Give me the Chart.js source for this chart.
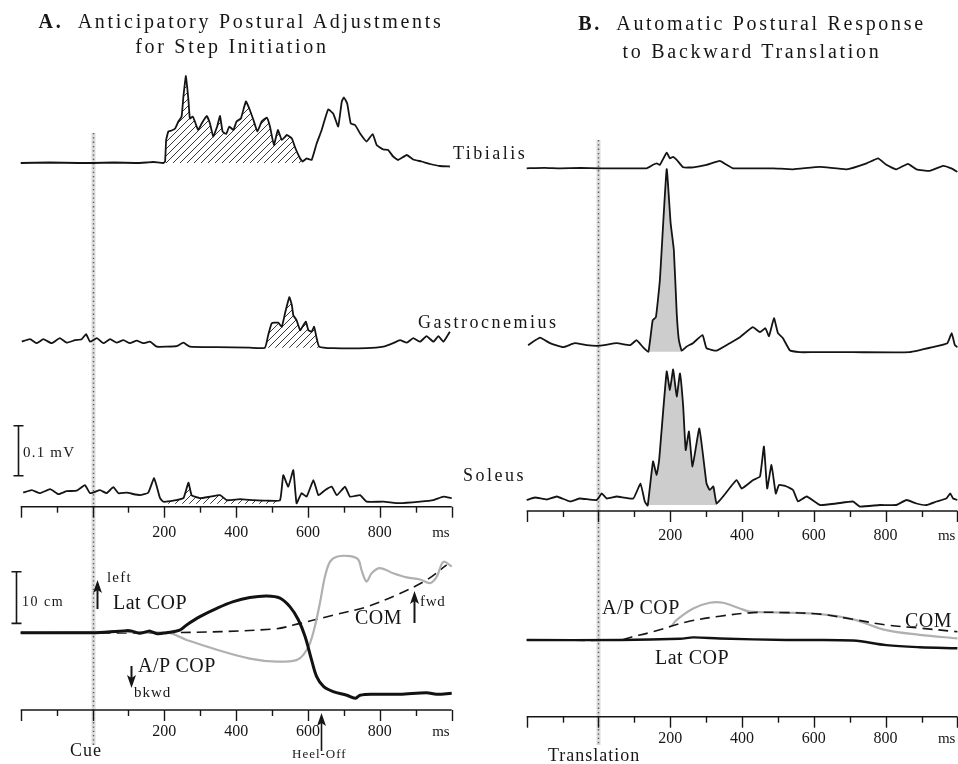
<!DOCTYPE html>
<html>
<head>
<meta charset="utf-8">
<script src="https://cdn.jsdelivr.net/npm/chart.js@4.4.1/dist/chart.umd.min.js"></script>
<style>
  body { margin: 0; background: #fff; }
  #page { position: relative; width: 958px; height: 764px; overflow: hidden; font-family: "Liberation Serif", "DejaVu Serif", serif; color: #161616; }
  canvas { position: absolute; top: 0; }
  .colA { left: 0; }
  .colB { left: 479px; }
  .t { position: absolute; white-space: nowrap; line-height: 1; transform: translateY(-50%); }
  .c { position: absolute; white-space: nowrap; line-height: 1; transform: translate(-50%, -50%); }
  .title { font-size: 20px; letter-spacing: 2.7px; }
  .muscle { font-size: 18px; letter-spacing: 2.5px; }
  .lab { font-size: 20px; letter-spacing: 0.5px; }
  .small { font-size: 15px; letter-spacing: 1.2px; }
</style>
</head>
<body>
<div id="page">
  <canvas id="copA" class="colA" width="479" height="764"></canvas>
  <canvas id="copB" class="colB" width="479" height="764"></canvas>
  <canvas id="tibA" class="colA" width="479" height="764"></canvas>
  <canvas id="gasA" class="colA" width="479" height="764"></canvas>
  <canvas id="solA" class="colA" width="479" height="764"></canvas>
  <canvas id="tibB" class="colB" width="479" height="764"></canvas>
  <canvas id="gasB" class="colB" width="479" height="764"></canvas>
  <canvas id="solB" class="colB" width="479" height="764"></canvas>

  <div class="c title" style="left:241px;top:21px"><b>A.</b>&nbsp; Anticipatory Postural Adjustments</div>
  <div class="c title" style="left:232px;top:46px">for Step Initiation</div>
  <div class="c title" style="left:752px;top:23px"><b>B.</b>&nbsp; Automatic Postural Response</div>
  <div class="c title" style="left:752px;top:51px">to Backward Translation</div>

  <div class="t muscle" style="left:453px;top:153px">Tibialis</div>
  <div class="t muscle" style="left:418px;top:322px">Gastrocnemius</div>
  <div class="t muscle" style="left:463px;top:475px">Soleus</div>

  <div class="t small" style="left:23px;top:452px">0.1 mV</div>
  <div class="t small" style="left:22px;top:602px;font-size:14px;letter-spacing:1.5px">10 cm</div>
  <div class="t small" style="left:107px;top:577px">left</div>
  <div class="t lab" style="left:113px;top:602px">Lat COP</div>
  <div class="t lab" style="left:138px;top:665px">A/P COP</div>
  <div class="t small" style="left:134px;top:692px;letter-spacing:1px">bkwd</div>
  <div class="t lab" style="left:355px;top:617px">COM</div>
  <div class="t small" style="left:420px;top:601px;letter-spacing:0.7px">fwd</div>
  <div class="t" style="left:70px;top:750px;font-size:18px;letter-spacing:1px">Cue</div>
  <div class="t" style="left:292px;top:753px;font-size:13px;letter-spacing:1px">Heel-Off</div>

  <div class="t lab" style="left:602px;top:607px">A/P COP</div>
  <div class="t lab" style="left:905px;top:620px">COM</div>
  <div class="t lab" style="left:655px;top:657px">Lat COP</div>
  <div class="t" style="left:548px;top:755px;font-size:18px;letter-spacing:1px">Translation</div>
</div>

<script>
// time axis (ms) shared by both columns
const msMin = -200;
const msMax = 1000;
const tickMs = [-200, -100, 0, 100, 200, 300, 400, 500, 600, 700, 800, 900, 1000];
const tickLabels = [200, 400, 600, 800];

// A. anticipatory postural adjustments - EMG (µV above trace baseline)
const tibA_t = [-200,-120,-40,0,60,120,150,169,197,202,205,211,220,230,239,248,253,260,267,271,279,285,294,304,318,327,336,347,355,362,372,381,392,401,413,427,438,448,459,471,485,494,505,516,527,541,555,564,578,585,596,610,624,638,656,670,684,694,700,709,719,731,745,763,780,791,810,823,837,851,875,893,916,940,967,995];
const tibA_v = [0,1,0,0,1,0,1,2,0,3,46,63,65,69,83,93,133,174,126,89,93,83,66,79,94,79,53,73,94,63,58,73,66,83,89,123,106,86,63,83,91,73,36,66,46,56,49,31,9,3,9,6,39,66,107,99,73,123,131,119,79,76,59,43,58,36,27,26,13,6,16,7,3,-2,-6,-7];
const gasA_t = [-197,-174,-155,-137,-114,-91,-72,-49,-30,-18,-7,12,30,49,67,86,104,123,141,160,179,206,234,253,271,346,438,480,489,499,517,527,536,548,555,559,568,578,587,594,601,610,617,624,631,670,763,810,837,856,875,893,912,930,949,963,977,995];
const gasA_v = [12,17,9,17,9,19,10,15,17,27,12,19,9,17,10,15,9,14,9,12,2,2,3,10,2,1,0,0,25,49,50,42,69,101,85,65,55,35,45,52,35,32,42,19,2,-1,-1,2,9,15,10,19,12,23,12,23,12,32];
const solA_t = [-193,-169,-146,-118,-95,-72,-44,-21,-7,21,39,58,72,95,132,155,171,179,188,197,225,253,267,276,299,327,355,374,411,448,485,522,531,545,559,568,582,596,615,629,647,666,680,703,717,745,763,810,856,912,949,977,1000];
const solA_v = [18,23,17,25,15,21,22,33,17,23,17,29,17,18,13,18,47,30,7,0,2,7,38,13,7,10,13,3,5,3,2,3,53,30,63,-3,17,10,43,13,23,30,13,30,10,13,0,0,-3,0,3,10,7];
const hatchA = { tib: [200, 585], gas: [480, 631], sol: [190, 525] };

// A. centre of pressure / centre of mass (cm)
const latA_t = [-200,-100,0,95,110,130,151,160,180,206,243,262,299,346,392,438,485,522,550,573,592,610,624,643,670,708,731,745,782,856,930,958,1000];
const latA_cm = [0,0,0,0.4,0.3,-0.1,0.2,0.3,-0.2,0,0.5,1.5,3.1,4.7,6.0,6.8,7.1,6.7,5.0,2.5,-0.8,-5.3,-8.5,-10.4,-11.4,-12.1,-12.7,-12.1,-11.9,-11.9,-11.6,-11.9,-11.7];
const apA_t = [-200,206,262,346,438,513,568,587,605,619,633,647,661,680,717,740,749,763,777,800,837,875,912,940,958,977,1000];
const apA_cm = [0,0,-1.4,-3.3,-5.0,-5.6,-5.3,-4.3,-2.1,1.2,5.7,10.8,13.7,14.7,14.8,14.1,12.1,9.9,11.5,12.5,11.5,10.7,10.3,9.6,10.8,13.7,12.8];
const comA_t = [-200,206,503,578,670,763,856,930,986];
const comA_cm = [0,0,0.7,1.8,3.4,5.0,7.6,10.2,13.1];
const heelOffMs = 635;

// B. automatic postural response - EMG (µV)
const tibB_t = [-200,-150,-107,-50,4,60,134,152,162,171,190,199,208,218,236,264,301,338,357,375,431,487,542,617,691,747,779,802,830,862,886,923,960,983,1000];
const tibB_v = [0,1,0,1,0,0,0,7,10,7,31,20,23,17,2,2,7,15,7,0,0,0,-2,3,-2,10,20,7,-2,9,-2,-5,5,0,-7];
const gasB_t = [-196,-163,-135,-99,-66,-33,4,51,88,106,124,139,151,160,171,190,201,210,218,224,232,245,263,290,301,329,366,394,430,450,465,475,489,500,514,533,561,597,709,867,931,972,984,993,1000];
const gasB_v = [13,28,17,9,17,13,12,17,13,23,9,0,63,69,143,365,257,203,77,23,2,10,17,33,7,2,17,29,49,39,47,31,67,37,27,3,-1,-1,-1,-1,9,17,37,13,9];
const solB_t = [-200,-177,-144,-116,-79,-52,-5,9,23,51,97,117,129,137,152,162,169,190,199,208,218,227,236,243,252,262,281,301,310,320,329,347,385,399,431,450,461,470,482,494,503,524,542,556,580,617,663,709,728,784,830,858,886,914,942,969,980,988,1000];
const solB_v = [10,15,11,17,7,13,10,23,13,17,13,43,7,-1,87,60,90,267,230,271,217,263,197,110,147,77,153,43,30,37,3,17,50,33,50,57,117,33,80,23,40,37,30,7,17,0,3,7,-3,0,0,10,3,0,7,13,23,13,10];
const shadeB = { gas: [139, 232], sol: [137, 329] };

// B. centre of pressure / centre of mass (cm)
const latB_t = [-200,60,227,264,338,524,709,802,895,1000];
const latB_cm = [0,0,0.25,0.5,0.3,0,-0.1,-1.0,-1.4,-1.6];
const comB_t = [-200,60,88,152,245,338,431,524,617,709,802,895,1000];
const comB_cm = [0,0,0.5,1.6,3.5,4.6,5.3,5.3,5.0,4.0,2.9,2.3,1.6];
const apB_t = [205,218,264,310,347,394,422,524,617,709,802,895,1000];
const apB_cm = [2.8,3.9,6.1,7.2,7.2,6.1,5.5,5.3,5.0,4.0,1.9,1.0,0.3];

// ---- helpers ----
const UV_PER_PX = 2;          // 0.1 mV bar = 50 px
const CM_PER_PX = 10 / 51.7;  // 10 cm bar
const FONT = '"Liberation Serif", serif';

function pts(t, v) { return t.map((x, i) => ({ x, y: v[i] })); }
function segment(t, v, range) { return pts(t, v).filter(p => p.x >= range[0] && p.x <= range[1]); }

function hatchPattern() {
  const tile = document.createElement('canvas');
  tile.width = 7; tile.height = 7;
  const c = tile.getContext('2d');
  c.strokeStyle = '#222';
  c.lineWidth = 0.9;
  c.beginPath();
  c.moveTo(0, 7); c.lineTo(7, 0);
  c.moveTo(-1, 1); c.lineTo(1, -1);
  c.moveTo(6, 8); c.lineTo(8, 6);
  c.stroke();
  return c.createPattern(tile, 'repeat');
}
const hatch = hatchPattern();

function trace(t, v, opts) {
  return Object.assign({
    data: pts(t, v), borderColor: '#141414', borderWidth: 1.8,
    pointRadius: 0, fill: false, clip: false, order: 0, tension: 0.12
  }, opts || {});
}
function shade(t, v, range, floor, bg) {
  return {
    data: segment(t, v, range), borderWidth: 0, borderColor: 'rgba(0,0,0,0)',
    backgroundColor: bg, fill: { value: floor }, pointRadius: 0, clip: false, order: 5, tension: 0.12
  };
}

// time axis under a panel, drawn from the chart's own x scale
function msAxis(labelGap) {
  return {
    id: 'msAxis',
    afterDraw(chart) {
      const { ctx, chartArea } = chart;
      const xs = chart.scales.x;
      const y = chartArea.bottom;
      ctx.save();
      ctx.strokeStyle = '#161616';
      ctx.lineWidth = 1.5;
      ctx.beginPath();
      ctx.moveTo(xs.getPixelForValue(msMin), y);
      ctx.lineTo(xs.getPixelForValue(msMax), y);
      ctx.stroke();
      ctx.lineWidth = 1.4;
      tickMs.forEach(v => {
        const x = Math.round(xs.getPixelForValue(v)) + 0.5;
        const len = v % 200 === 0 ? 11 : 6;
        ctx.beginPath(); ctx.moveTo(x, y); ctx.lineTo(x, y + len); ctx.stroke();
      });
      ctx.fillStyle = '#161616';
      ctx.font = '16px ' + FONT;
      ctx.textAlign = 'center';
      ctx.textBaseline = 'middle';
      tickLabels.forEach(v => ctx.fillText(String(v), xs.getPixelForValue(v), y + labelGap));
      ctx.font = '15px ' + FONT;
      ctx.textAlign = 'right';
      ctx.fillText('ms', xs.getPixelForValue(msMax) - 2, y + labelGap);
      ctx.restore();
    }
  };
}

// dotted event line at time 0 (Cue / Translation)
function cueLine(top, bottom) {
  return {
    id: 'cueLine',
    beforeDatasetsDraw(chart) {
      const { ctx } = chart;
      const x = Math.round(chart.scales.x.getPixelForValue(0)) + 0.5;
      ctx.save();
      ctx.strokeStyle = 'rgba(190,190,190,0.55)';
      ctx.lineWidth = 4;
      ctx.beginPath(); ctx.moveTo(x, top); ctx.lineTo(x, bottom); ctx.stroke();
      ctx.strokeStyle = '#5a5a5a';
      ctx.lineWidth = 1.4;
      ctx.setLineDash([1.3, 3]);
      ctx.beginPath(); ctx.moveTo(x, top); ctx.lineTo(x, bottom); ctx.stroke();
      ctx.restore();
    }
  };
}

function scaleBar(ctx, x, y0, y1) {
  ctx.beginPath();
  ctx.moveTo(x, y0); ctx.lineTo(x, y1);
  ctx.moveTo(x - 5, y0); ctx.lineTo(x + 5, y0);
  ctx.moveTo(x - 5, y1); ctx.lineTo(x + 5, y1);
  ctx.stroke();
}

function arrow(ctx, x, yTail, yTip) {
  const dir = yTail > yTip ? 1 : -1;
  ctx.beginPath(); ctx.moveTo(x, yTail); ctx.lineTo(x, yTip + dir * 6); ctx.stroke();
  ctx.beginPath();
  ctx.moveTo(x, yTip);
  ctx.lineTo(x - 4.5, yTip + dir * 13);
  ctx.lineTo(x, yTip + dir * 10);
  ctx.lineTo(x + 4.5, yTip + dir * 13);
  ctx.closePath(); ctx.fill();
}

const mvBar = {
  id: 'mvBar',
  afterDraw(chart) {
    const ys = chart.scales.y;
    const ctx = chart.ctx;
    ctx.save(); ctx.strokeStyle = '#161616'; ctx.lineWidth = 1.6;
    scaleBar(ctx, 18.5, ys.getPixelForValue(152), ys.getPixelForValue(52));
    ctx.restore();
  }
};

const copMarksA = {
  id: 'copMarksA',
  afterDraw(chart) {
    const ys = chart.scales.y;
    const xs = chart.scales.x;
    const ctx = chart.ctx;
    ctx.save();
    ctx.strokeStyle = '#161616'; ctx.fillStyle = '#161616'; ctx.lineWidth = 1.6;
    scaleBar(ctx, 16.5, ys.getPixelForValue(11.8), ys.getPixelForValue(1.8));
    ctx.lineWidth = 2;
    arrow(ctx, 97.5, 609, 580);
    arrow(ctx, 131.5, 666, 688);
    arrow(ctx, 414.5, 623, 591);
    ctx.lineWidth = 1.6;
    arrow(ctx, Math.round(xs.getPixelForValue(heelOffMs)) + 0.5, 751, 713);
    ctx.restore();
  }
};

function panel(id, col, area, base, k, datasets, plugins) {
  const pad = col === 'A' ? { left: 20.7, right: 27.3 } : { left: 47.7, right: 0.6 };
  return new Chart(document.getElementById(id), {
    type: 'line',
    data: { datasets },
    options: {
      responsive: false,
      animation: false,
      devicePixelRatio: 1,
      events: [],
      layout: { padding: { left: pad.left, right: pad.right, top: area[0], bottom: 764 - area[1] } },
      plugins: { legend: { display: false }, tooltip: { enabled: false } },
      scales: {
        x: { type: 'linear', min: msMin, max: msMax, display: false },
        y: { type: 'linear', min: -(area[1] - base) * k, max: (base - area[0]) * k, display: false }
      },
      elements: { point: { radius: 0 } }
    },
    plugins: plugins || []
  });
}

// ---- column A ----
panel('copA', 'A', [545, 710], 632.7, CM_PER_PX, [
  trace(latA_t, latA_cm, { borderWidth: 3, borderColor: '#121212', order: 0, tension: 0.35 }),
  trace(apA_t, apA_cm, { borderWidth: 2.2, borderColor: '#b0b0b0', order: 1, tension: 0.35 }),
  trace(comA_t, comA_cm, { borderWidth: 1.6, borderColor: '#161616', borderDash: [10, 6], order: 2, tension: 0.35 })
], [cueLine(133, 745), msAxis(22), copMarksA]);

panel('tibA', 'A', [60, 200], 163, UV_PER_PX, [
  trace(tibA_t, tibA_v),
  shade(tibA_t, tibA_v, hatchA.tib, 0, hatch)
]);
panel('gasA', 'A', [200, 360], 347.7, UV_PER_PX, [
  trace(gasA_t, gasA_v),
  shade(gasA_t, gasA_v, hatchA.gas, 0, hatch)
]);
panel('solA', 'A', [360, 506.7], 501.7, UV_PER_PX, [
  trace(solA_t, solA_v),
  shade(solA_t, solA_v, hatchA.sol, -4, hatch)
], [msAxis(26), mvBar]);

// ---- column B ----
panel('copB', 'B', [545, 716.7], 640, CM_PER_PX, [
  trace(latB_t, latB_cm, { borderWidth: 2.4, borderColor: '#121212', order: 0, tension: 0.35 }),
  trace(apB_t, apB_cm, { borderWidth: 2.2, borderColor: '#b0b0b0', order: 2, tension: 0.35 }),
  trace(comB_t, comB_cm, { borderWidth: 1.6, borderColor: '#161616', borderDash: [10, 6], order: 1, tension: 0.35 })
], [cueLine(140, 745), msAxis(22)]);

panel('tibB', 'B', [60, 200], 168.3, UV_PER_PX, [
  trace(tibB_t, tibB_v)
]);
panel('gasB', 'B', [150, 360], 351.7, UV_PER_PX, [
  trace(gasB_t, gasB_v),
  shade(gasB_t, gasB_v, shadeB.gas, 0, '#cdcdcd')
]);
panel('solB', 'B', [360, 511], 505, UV_PER_PX, [
  trace(solB_t, solB_v),
  shade(solB_t, solB_v, shadeB.sol, 0, '#cdcdcd')
], [msAxis(25)]);
</script>
</body>
</html>
